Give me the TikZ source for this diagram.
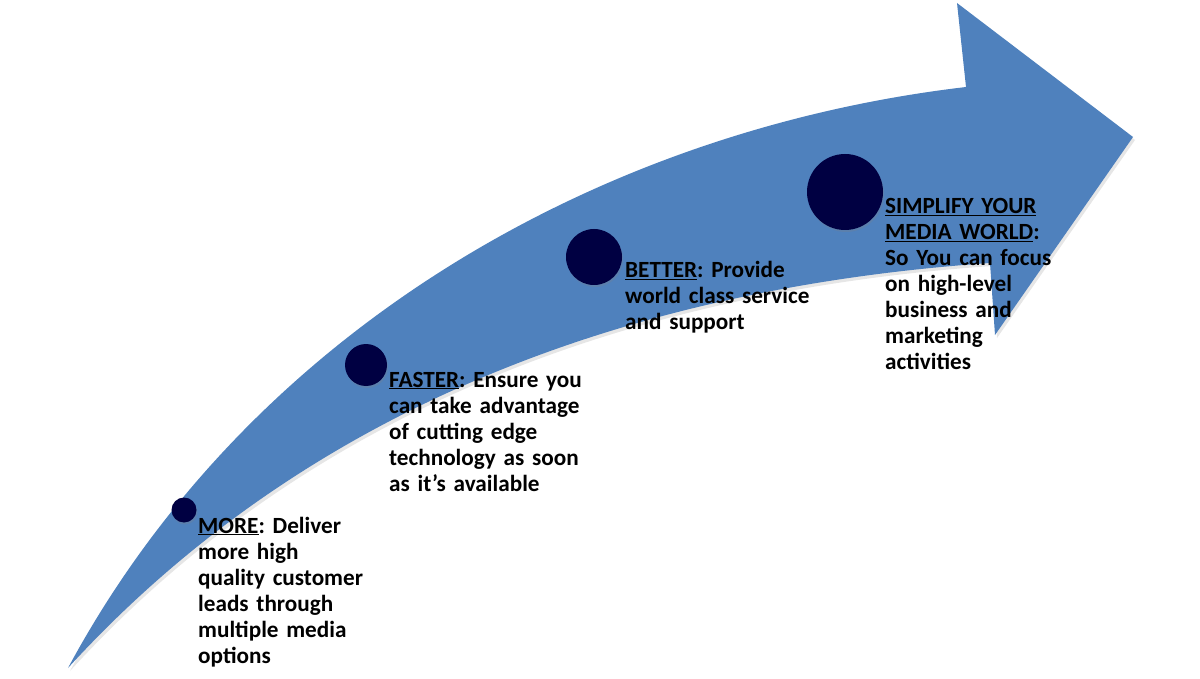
\documentclass[tikz,border=0pt]{standalone}
\usepackage{fontspec}
\setmainfont{Carlito}
\usepackage{tikz}
\definecolor{arrowblue}{RGB}{79, 129, 189}
\definecolor{dotnavy}{RGB}{0, 0, 66}
\usetikzlibrary{shadows}
\frenchspacing
\tikzstyle{dot} = [circle, fill=dotnavy, inner sep=0pt,
    drop shadow={shadow xshift=1pt, shadow yshift=-2pt, opacity=0.25}]
\tikzstyle{label} = [anchor=base west, inner sep=0pt, text width=240pt,
    align=left, font=\fontsize{23.2}{26}\selectfont\bfseries]

\begin{document}
\begin{tikzpicture}[x=1pt, y=-1pt]
  \useasboundingbox (0,0) rectangle (1200,679);
  % big curved arrow
  \fill [arrowblue, drop shadow={shadow xshift=2pt, shadow yshift=-3pt, opacity=0.2}]
    (68,668) .. controls (250,330) and (600,130) .. (966,87)
    -- (957,3) -- (1133,137) -- (995,335) -- (990,263)
    .. controls (600,290) and (290,425) .. (68,668) -- cycle;
  \node [dot, minimum size=25pt] (more_dot) at (184,510) {};
  \node [dot, minimum size=42pt] (faster_dot) at (366,365) {};
  \node [dot, minimum size=56pt] (better_dot) at (594,257) {};
  \node [dot, minimum size=76pt] (simplify_dot) at (845,192) {};
  \node [label] (more_text) at (198,533)
    {\underline{MORE}: Deliver\\ more high\\ quality customer\\ leads through\\ multiple media\\ options};
  \node [label] (faster_text) at (389,387)
    {\underline{FASTER}: Ensure you\\ can take advantage\\ of cutting edge\\ technology as soon\\ as it’s available};
  \node [label] (better_text) at (625,278)
    {\underline{BETTER}: Provide\\ world class service\\ and support};
  \node [label] (simplify_text) at (885,214)
    {\underline{SIMPLIFY YOUR}\\ \underline{MEDIA WORLD}:\\ So You can focus\\ on high-level\\ business and\\ marketing\\ activities};
\end{tikzpicture}
\end{document}
